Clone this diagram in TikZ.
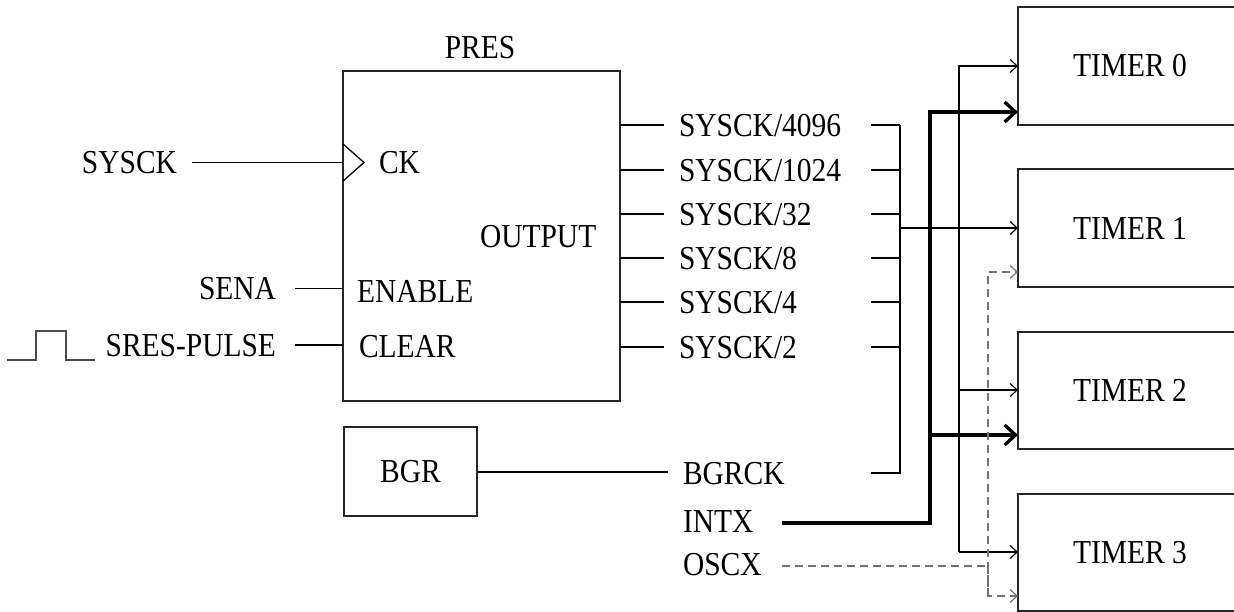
\documentclass[tikz,border=0pt]{standalone}
\usepackage{fontspec}
\setmainfont[FakeStretch=0.88]{Liberation Serif}
\usetikzlibrary{arrows.meta}
\tikzset{
  lbl/.style={inner sep=0pt, outer sep=0pt, font=\fontsize{33.5}{38}\selectfont},
  wire/.style={line width=1.3pt, draw=black},
  boxed/.style={draw=black!85, line width=1.3pt, inner sep=0pt, outer sep=0pt, font=\fontsize{33.5}{38}\selectfont},
  tarrow/.style={wire, -{Straight Barb[length=7pt,width=13pt,line width=1.2pt]}},
  thickarrow/.style={line width=3.3pt, draw=black, -{Straight Barb[length=11pt,width=20pt,line width=3.3pt]}},
  thickwire/.style={line width=3.3pt, draw=black},
  dwire/.style={line width=1.3pt, draw=black!55, dash pattern=on 8pt off 5pt},
  darrow/.style={dwire, -{Straight Barb[length=7pt,width=13pt,line width=1.2pt]}},
}
\begin{document}
\begin{tikzpicture}[x=1pt,y=-1pt]
\useasboundingbox (0,0) rectangle (1234,612);
\clip (0,0) rectangle (1234,612);
\fill[white] (0,0) rectangle (1234,612);

% PRES block
\node[boxed, minimum width=277pt, minimum height=330pt, anchor=north west] (pres) at (343,71) {};
\node[lbl, anchor=base] (presl) at (480,59) {PRES};
\draw[wire] (pres.west |- 0,144) -- (364,162.5) -- (pres.west |- 0,181);
\node[lbl, anchor=base west] (ck) at (379,174) {CK};
\node[lbl, anchor=base west] (outp) at (480,247.5) {OUTPUT};
\node[lbl, anchor=base west] (enable) at (357,302.5) {ENABLE};
\node[lbl, anchor=base west] (clear) at (359,357.5) {CLEAR};

% inputs
\node[lbl, anchor=base east] (sysck) at (177,174) {SYSCK};
\node[lbl, anchor=base east] (sena) at (276,300) {SENA};
\node[lbl, anchor=base east] (sres) at (276,356) {SRES-PULSE};
\coordinate (sysckA) at (192,162.5);
\coordinate (senaA) at (295,288.5);
\coordinate (sresA) at (295,345);
\draw[wire] (sysckA) -- (pres.west |- sysckA);
\draw[wire] (senaA) -- (pres.west |- senaA);
\draw[wire] (sresA) -- (pres.west |- sresA);
\draw[line width=1.3pt, draw=black!70] (7,360) -- (36,360) -- (36,331) -- (66,331) -- (66,360) -- (95,360);

% outputs
\foreach \n/\t/\y in {a/SYSCK\slash 4096/125, b/SYSCK\slash 1024/170, c/SYSCK\slash 32/214, d/SYSCK\slash 8/258, e/SYSCK\slash 4/302, f/SYSCK\slash 2/347}{
  \node[lbl, anchor=base west] (o\n) at (679,\y+11.5) {\t};
  \coordinate (ol\n) at (664,\y);
  \coordinate (or\n) at (871,\y);
  \coordinate (ob\n) at (900,\y);
  \draw[wire] (pres.east |- ol\n) -- (ol\n);
  \draw[wire] (or\n) -- (ob\n);
}

% BGR
\node[boxed, minimum width=133pt, minimum height=89pt, anchor=north west] (bgr) at (344,427) {BGR};
\node[lbl, anchor=base west] (bgrck) at (683,484) {BGRCK};
\coordinate (bgrckL) at (668,472);
\coordinate (bgrckR) at (871,473);
\coordinate (bgrckB) at (900,473);
\draw[wire] (bgr.east |- bgrckL) -- (bgrckL);
\draw[wire] (bgrckR) -- (bgrckB) -- (oba);

% INTX / OSCX
\node[lbl, anchor=base west] (intx) at (683,532) {INTX};
\node[lbl, anchor=base west] (oscx) at (683,575) {OSCX};
\coordinate (intxA) at (782,523);
\coordinate (oscxA) at (782,566);

% timers
\node[boxed, minimum width=224pt, minimum height=118pt, anchor=north west] (t0) at (1018,7) {TIMER 0};
\node[boxed, minimum width=224pt, minimum height=118pt, anchor=north west] (t1) at (1018,169) {TIMER 1};
\node[boxed, minimum width=224pt, minimum height=117pt, anchor=north west] (t2) at (1018,332) {TIMER 2};
\node[boxed, minimum width=224pt, minimum height=117pt, anchor=north west] (t3) at (1018,494) {TIMER 3};

% bus to timer 1 and thin distribution
\coordinate (busT) at (900,228);
\coordinate (vt) at (959,66);
\coordinate (vb) at (959,552);
\draw[tarrow] (busT) -- (t1.west |- busT);
\draw[tarrow] (vb) -- (vt) -- (t0.west |- vt);
\draw[tarrow] (959,390) -- (t2.west |- 0,390);
\draw[tarrow] (vb) -- (t3.west |- vb);

% thick INTX
\draw[thickarrow] (intxA) -| (930,112) -- (t0.west |- 0,112);
\draw[thickarrow] (930,435) -- (t2.west |- 0,435);

% dashed OSCX
\draw[dwire] (oscxA) -- (988,566);
\draw[darrow] (988,596) -- (988,272) -- (t1.west |- 0,272);
\draw[darrow] (988,566) -- (988,596) -- (t3.west |- 0,596);
\end{tikzpicture}
\end{document}
